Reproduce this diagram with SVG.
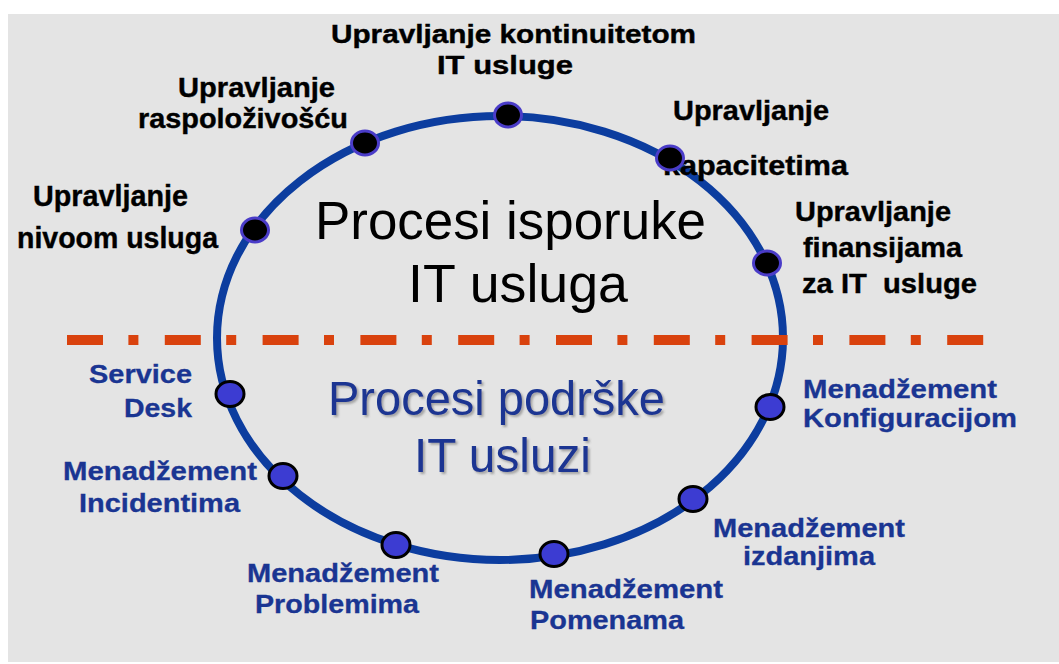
<svg xmlns="http://www.w3.org/2000/svg" width="1059" height="664" viewBox="0 0 1059 664">
<style>
.lbl{font-family:"Liberation Sans",Arial,sans-serif;font-weight:bold;font-size:25.5px;fill:#000;stroke:#000;stroke-width:0.4}
.s27{font-size:27px}
.s28{font-size:28px}
.s30{font-size:30px}
.blbl{font-family:"Liberation Sans",Arial,sans-serif;font-weight:bold;font-size:25.5px;fill:#1a3592;stroke:#1a3592;stroke-width:0.3}
.big{font-family:"Liberation Sans",Arial,sans-serif;font-size:53px;fill:#000}
.bigb{font-family:"Liberation Sans",Arial,sans-serif;font-size:49px;fill:#1a3592}
.dn{fill:#000;stroke:#4a3cc8;stroke-width:3}
.bn{fill:#3c3cd2;stroke:#000;stroke-width:3}
</style>
<defs>
<filter id="sh" x="-10%" y="-20%" width="120%" height="140%">
<feDropShadow dx="2" dy="2" stdDeviation="1.2" flood-color="#555" flood-opacity="0.45"/>
</filter>
</defs>
<rect x="0" y="0" width="1059" height="664" fill="#fff"/>
<rect x="8" y="14" width="1051" height="648" fill="#e4e4e4"/>
<g id="connectors">
<ellipse cx="500" cy="338" rx="283" ry="222" fill="none" stroke="#0c3d9f" stroke-width="8"/>
<line x1="67" y1="340" x2="984" y2="340" stroke="#d9420e" stroke-width="10" stroke-dasharray="36 25.4 10 26.4"/>
</g>
<g id="title-delivery">
<text class="big" x="315" y="239" textLength="391" lengthAdjust="spacingAndGlyphs">Procesi isporuke</text>
<text class="big" x="408" y="302" textLength="220" lengthAdjust="spacingAndGlyphs">IT usluga</text>
</g>
<g id="title-support" filter="url(#sh)">
<text class="bigb" x="328" y="415" textLength="337" lengthAdjust="spacingAndGlyphs">Procesi podrške</text>
<text class="bigb" x="414" y="472" textLength="177" lengthAdjust="spacingAndGlyphs">IT usluzi</text>
</g>
<g id="n-kontinuitet">
<text class="lbl" x="331" y="43" textLength="365" lengthAdjust="spacingAndGlyphs">Upravljanje kontinuitetom</text>
<text class="lbl" x="437" y="74" textLength="136" lengthAdjust="spacingAndGlyphs">IT usluge</text>
<ellipse class="dn" cx="508" cy="115" rx="13.5" ry="12"/>
</g>
<g id="n-raspolozivost">
<text class="lbl s27" x="178" y="97" textLength="157" lengthAdjust="spacingAndGlyphs">Upravljanje</text>
<text class="lbl s27" x="138" y="128" textLength="210" lengthAdjust="spacingAndGlyphs">raspoloživošću</text>
<ellipse class="dn" cx="365" cy="143" rx="13.5" ry="12"/>
</g>
<g id="n-nivo">
<text class="lbl s30" x="33" y="206" textLength="155" lengthAdjust="spacingAndGlyphs">Upravljanje</text>
<text class="lbl s30" x="17" y="248" textLength="201" lengthAdjust="spacingAndGlyphs">nivoom usluga</text>
<ellipse class="dn" cx="255" cy="230" rx="13.5" ry="12"/>
</g>
<g id="n-kapacitet">
<text class="lbl s27" x="673" y="120" textLength="156" lengthAdjust="spacingAndGlyphs">Upravljanje</text>
<text class="lbl s27" x="663" y="175" textLength="185" lengthAdjust="spacingAndGlyphs">kapacitetima</text>
<ellipse class="dn" cx="670" cy="158" rx="13.5" ry="12"/>
</g>
<g id="n-finansije">
<text class="lbl s28" x="795" y="221" textLength="156" lengthAdjust="spacingAndGlyphs">Upravljanje</text>
<text class="lbl s28" x="803" y="257" textLength="159" lengthAdjust="spacingAndGlyphs">finansijama</text>
<text class="lbl s28" x="802" y="293" textLength="175" lengthAdjust="spacingAndGlyphs" xml:space="preserve">za IT  usluge</text>
<ellipse class="dn" cx="767" cy="263" rx="13.5" ry="12"/>
</g>
<g id="n-servicedesk">
<text class="blbl" x="89" y="383" textLength="103" lengthAdjust="spacingAndGlyphs">Service</text>
<text class="blbl" x="124" y="417" textLength="68" lengthAdjust="spacingAndGlyphs">Desk</text>
<ellipse class="bn" cx="230" cy="394" rx="14" ry="12.5"/>
</g>
<g id="n-incidenti">
<text class="blbl" x="63" y="480" textLength="194" lengthAdjust="spacingAndGlyphs">Menadžement</text>
<text class="blbl" x="79" y="512" textLength="161" lengthAdjust="spacingAndGlyphs">Incidentima</text>
<ellipse class="bn" cx="283" cy="476" rx="14" ry="12.5"/>
</g>
<g id="n-problemi">
<text class="blbl" x="247" y="582" textLength="192" lengthAdjust="spacingAndGlyphs">Menadžement</text>
<text class="blbl" x="255" y="613" textLength="164" lengthAdjust="spacingAndGlyphs">Problemima</text>
<ellipse class="bn" cx="396" cy="545" rx="14" ry="12.5"/>
</g>
<g id="n-pomene">
<text class="blbl" x="529" y="598" textLength="194" lengthAdjust="spacingAndGlyphs">Menadžement</text>
<text class="blbl" x="530" y="629" textLength="154" lengthAdjust="spacingAndGlyphs">Pomenama</text>
<ellipse class="bn" cx="554" cy="554" rx="14" ry="12.5"/>
</g>
<g id="n-izdanja">
<text class="blbl" x="713" y="537" textLength="192" lengthAdjust="spacingAndGlyphs">Menadžement</text>
<text class="blbl" x="743" y="565" textLength="132" lengthAdjust="spacingAndGlyphs">izdanjima</text>
<ellipse class="bn" cx="693" cy="499" rx="14" ry="12.5"/>
</g>
<g id="n-konfiguracija">
<text class="blbl" x="803" y="398" textLength="194" lengthAdjust="spacingAndGlyphs">Menadžement</text>
<text class="blbl" x="803" y="427" textLength="214" lengthAdjust="spacingAndGlyphs">Konfiguracijom</text>
<ellipse class="bn" cx="770" cy="407" rx="14" ry="12.5"/>
</g>
</svg>
